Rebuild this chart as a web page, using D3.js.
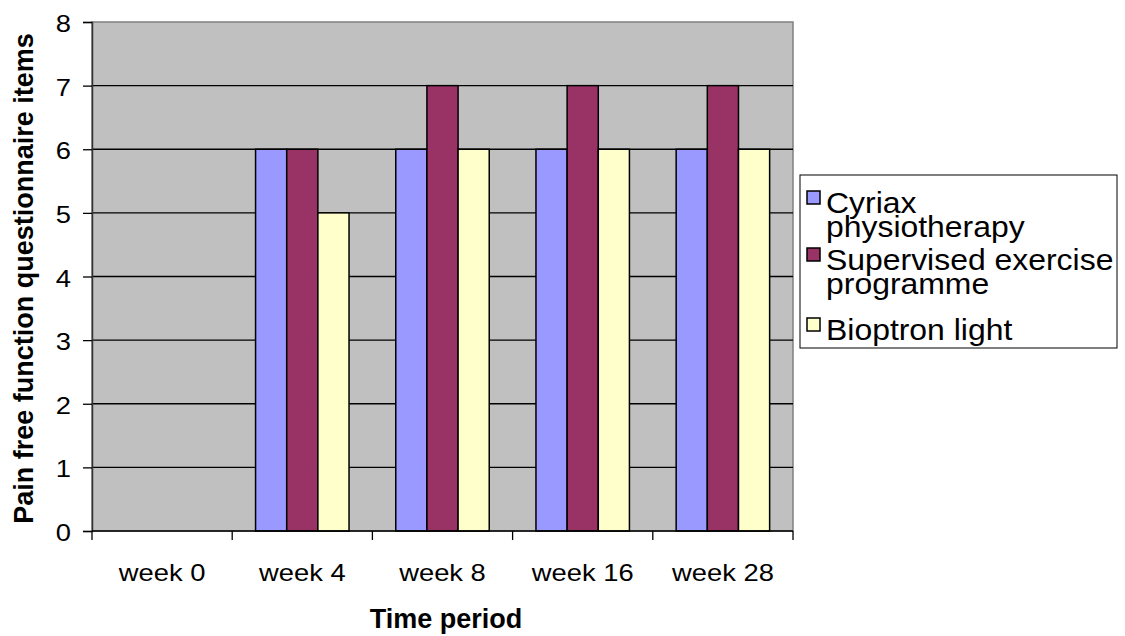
<!DOCTYPE html>
<html><head><meta charset="utf-8">
<script src="https://cdn.jsdelivr.net/npm/d3@7"></script>
<style>body{margin:0;background:#fff}svg{display:block;font-family:"Liberation Sans",Arial,sans-serif}</style>
</head><body><svg id="c" width="1125" height="636"></svg>
<script>
const categories = ["week 0","week 4","week 8","week 16","week 28"];
const seriesNames = ["Cyriax physiotherapy","Supervised exercise programme","Bioptron light"];
const cyriax = [0,6,6,6,6];
const supervised = [0,6,7,7,7];
const bioptron = [0,5,6,6,6];
const yTicks = [0,1,2,3,4,5,6,7,8];
const legendLines = [["Cyriax","physiotherapy"],["Supervised exercise","programme"],["Bioptron light"]];
const colors = ["#9999FF","#993366","#FFFFCC"];

const svg = d3.select("#c");
const L=92,R=793,T=22,B=531;
const SX=1.19;
const x = d3.scaleBand().domain(categories).range([L,R]).paddingInner(0).paddingOuter(0);
const y = d3.scaleLinear().domain([0,8]).range([B,T]);
const bw = x.bandwidth()/4.5;
const xs = d3.scaleBand().domain(seriesNames).range([0,3*bw]);

svg.append("rect").attr("x",L).attr("y",T).attr("width",R-L).attr("height",B-T).attr("fill","#C0C0C0").attr("stroke","#808080").attr("stroke-width",1.5);
svg.append("g").selectAll("line").data(yTicks.slice(1,-1)).join("line")
  .attr("x1",L).attr("x2",R).attr("y1",d=>y(d)).attr("y2",d=>y(d)).attr("stroke","#000").attr("stroke-width",1.3);

const data = [cyriax,supervised,bioptron];
const g = svg.append("g");
data.forEach((arr,si)=>{
  g.selectAll(null).data(arr.map((v,i)=>({v,c:categories[i]}))).join("rect")
   .attr("x",d=>x(d.c)+0.75*bw+xs(seriesNames[si]))
   .attr("y",d=>y(d.v)).attr("width",xs.bandwidth()).attr("height",d=>y(0)-y(d.v))
   .attr("fill",colors[si]).attr("stroke","#000").attr("stroke-width",1.5)
   .style("display",d=>d.v>0?null:"none");
});

// y axis
const ya = svg.append("g").attr("transform",`translate(${L},0)`).call(d3.axisLeft(y).tickValues(yTicks).tickSize(9).tickFormat(""));
ya.select(".domain").attr("stroke","#333").attr("stroke-width",1.5);
ya.selectAll(".tick line").attr("stroke","#000").attr("stroke-width",1.3);
svg.append("g").selectAll("text").data(yTicks).join("text")
  .attr("transform",d=>`translate(71,${y(d)+10}) scale(${SX},1)`)
  .attr("text-anchor","end").attr("font-size",23).text(d=>d3.format("d")(d));

// x axis
const xa = svg.append("g").attr("transform",`translate(0,${B})`);
xa.append("line").attr("x1",L).attr("x2",R).attr("stroke","#000").attr("stroke-width",1.5);
xa.selectAll("line.t").data(d3.range(categories.length+1)).join("line").attr("class","t")
  .attr("x1",i=>L+i*x.bandwidth()).attr("x2",i=>L+i*x.bandwidth()).attr("y1",0).attr("y2",9).attr("stroke","#000").attr("stroke-width",1.3);
xa.selectAll("text").data(categories).join("text")
  .attr("transform",d=>`translate(${x(d)+x.bandwidth()/2},50) scale(${SX},1)`)
  .attr("text-anchor","middle").attr("font-size",23).text(d=>d);

svg.append("text").attr("x",446).attr("y",628).attr("text-anchor","middle").attr("font-size",27).attr("font-weight","bold").text("Time period");
svg.append("text").attr("transform",`translate(33,${(T+B)/2+2}) rotate(-90)`).attr("text-anchor","middle").attr("font-size",27).attr("font-weight","bold").text("Pain free function questionnaire items");

// legend
const lg = svg.append("g");
lg.append("rect").attr("x",800).attr("y",175).attr("width",317).attr("height",173).attr("fill","#fff").attr("stroke","#000").attr("stroke-width",1);
const baselines = [213,270,340];
legendLines.forEach((lines,i)=>{
  const by = baselines[i];
  lg.append("rect").attr("x",807).attr("y",by-22).attr("width",13).attr("height",13).attr("fill",colors[i]).attr("stroke","#000").attr("stroke-width",1.5);
  const t = lg.append("text").attr("transform",`translate(826,${by}) scale(1.03,0.97)`).attr("font-size",31);
  lines.forEach((s,j)=>{
    t.append("tspan").attr("x",0).attr("y",j*25).text(s);
  });
});
</script></body></html>
